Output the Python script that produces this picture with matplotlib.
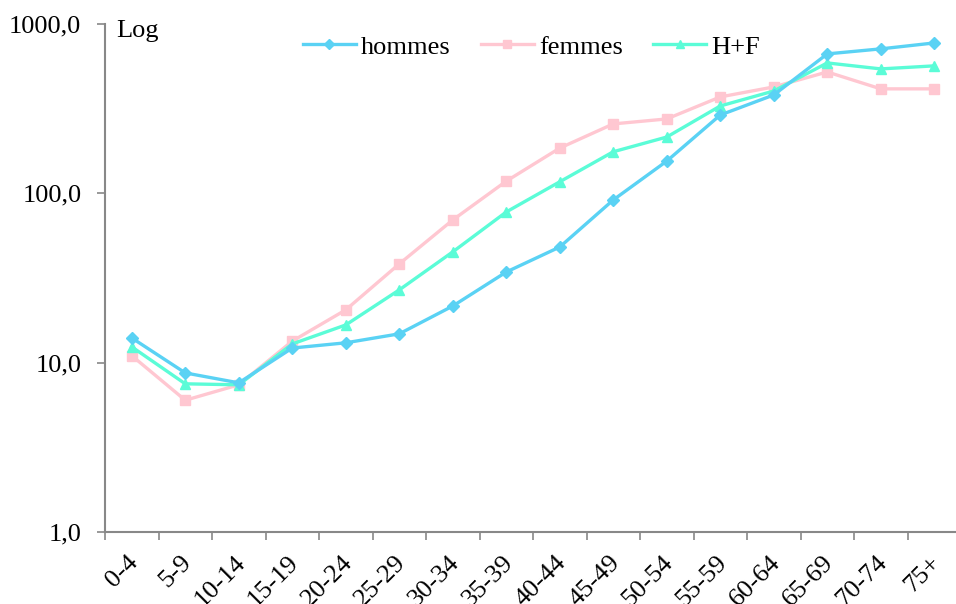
import matplotlib
matplotlib.use("Agg")
import matplotlib.pyplot as plt
import matplotlib.transforms as mtransforms
from matplotlib.ticker import FixedLocator, NullLocator

categories = ["0-4", "5-9", "10-14", "15-19", "20-24", "25-29", "30-34", "35-39",
              "40-44", "45-49", "50-54", "55-59", "60-64", "65-69", "70-74", "75+"]
hommes = [14.0, 8.7, 7.6, 12.2, 13.1, 14.8, 21.6, 34.3, 48.2, 91.4, 155, 290, 381, 666, 713, 773]
femmes = [11.0, 6.0, 7.4, 13.4, 20.5, 38.3, 69.6, 118, 185, 257, 275, 371, 425, 521, 414, 414]
hf = [12.4, 7.5, 7.4, 12.9, 16.7, 26.9, 45.1, 77.6, 117, 176, 215, 328, 402, 589, 543, 566]
ytick_vals = [1, 10, 100, 1000]
ytick_labels = ["1,0", "10,0", "100,0", "1000,0"]

plt.rcParams['font.family'] = ['Liberation Serif', 'DejaVu Serif']
FS = 19

fig = plt.figure(figsize=(9.56, 6.04), dpi=100)
ax = fig.add_axes([105/956, 1-532/604, 856/956, (532-24)/604])

x = list(range(len(categories)))
ax.plot(x, hommes, color="#5AD2F4", lw=2.4, marker="D", ms=6.5, label="hommes", zorder=3)
ax.plot(x, femmes, color="#FFC7D1", lw=2.4, marker="s", ms=7.5, label="femmes", zorder=2)
ax.plot(x, hf, color="#5BFCD7", lw=2.4, marker="^", ms=7.5, label="H+F", zorder=2.5)

ax.set_yscale("log")
ax.set_ylim(1, 1000)
ax.yaxis.set_major_locator(FixedLocator(ytick_vals))
ax.yaxis.set_minor_locator(NullLocator())
ax.set_yticklabels(ytick_labels)
ax.set_xlim(-0.5, len(categories) - 0.5)

ax.set_xticks(x)
ax.set_xticklabels(categories, rotation=45, ha="right", rotation_mode="anchor")
ax.set_xticks([i - 0.5 for i in range(len(categories) + 1)], minor=True)
ax.tick_params(axis="x", which="major", length=0, pad=14, labelsize=FS)
ax.tick_params(axis="x", which="minor", length=6, width=1.2, color="#888888", direction="out")
ax.tick_params(axis="y", which="major", length=6, width=1.2, color="#888888", direction="out", labelsize=FS, pad=11)
offset = mtransforms.ScaledTranslation(-4.5/100, 0, fig.dpi_scale_trans)
for lab in ax.get_xticklabels():
    lab.set_transform(lab.get_transform() + offset)

for s in ["top", "right"]:
    ax.spines[s].set_visible(False)
for s in ["left", "bottom"]:
    ax.spines[s].set_color("#888888")
    ax.spines[s].set_linewidth(1.5)

fig.text(116/956, 1-31/604, "Log", fontsize=FS, va="center", ha="left")

leg = ax.legend(loc="center", bbox_to_anchor=(531.5/956, 1-47/604), bbox_transform=fig.transFigure,
                ncol=3, frameon=False, fontsize=FS, handlelength=2.0, columnspacing=1.15,
                handletextpad=0.2, markerscale=0.8, borderaxespad=0)

fig.savefig("out.png", dpi=100)
